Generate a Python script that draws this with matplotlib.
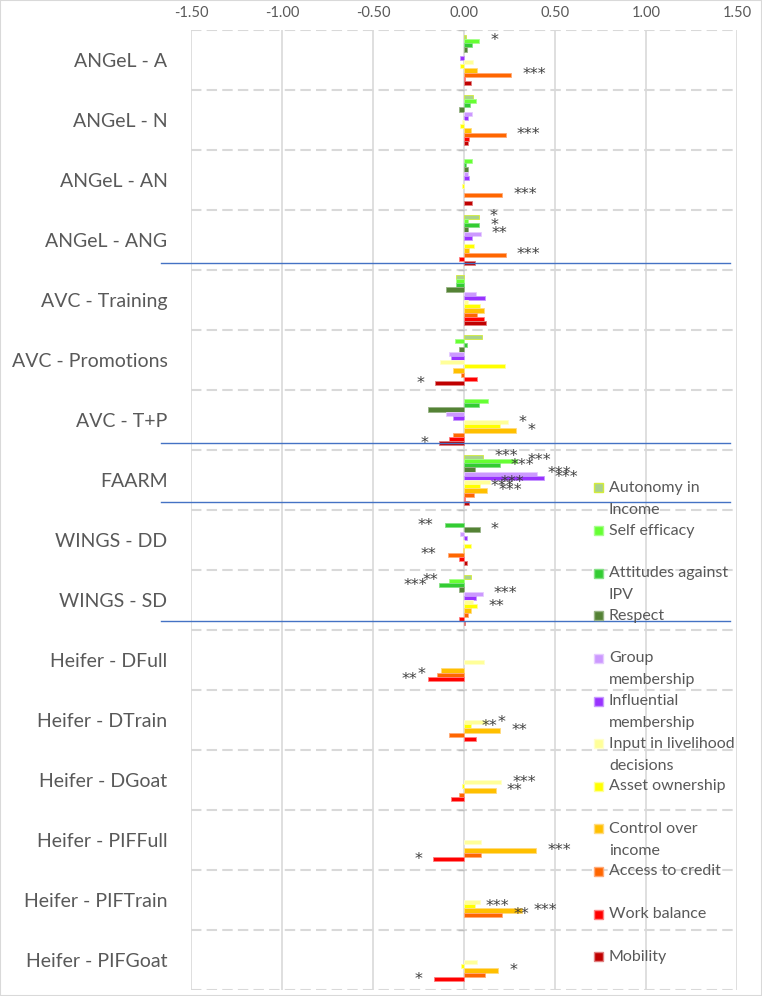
import matplotlib.pyplot as plt
import matplotlib.patches as mpatches
import matplotlib.lines as mlines
import numpy as np

plt.rcParams['font.family'] = ['Lato', 'DejaVu Sans']

categories = ["ANGeL - A", "ANGeL - N", "ANGeL - AN", "ANGeL - ANG",
              "AVC - Training", "AVC - Promotions", "AVC - T+P", "FAARM",
              "WINGS - DD", "WINGS - SD", "Heifer - DFull", "Heifer - DTrain",
              "Heifer - DGoat", "Heifer - PIFFull", "Heifer - PIFTrain", "Heifer - PIFGoat"]

series_names = ["Autonomy in Income", "Self efficacy", "Attitudes against IPV", "Respect",
                "Group membership", "Influential membership", "Input in livelihood decisions",
                "Asset ownership", "Control over income", "Access to credit", "Work balance",
                "Mobility"]
legend_text = ["Autonomy in\nIncome", "Self efficacy", "Attitudes against\nIPV", "Respect",
               "Group\nmembership", "Influential\nmembership", "Input in livelihood\ndecisions",
               "Asset ownership", "Control over\nincome", "Access to credit", "Work balance",
               "Mobility"]

# values (one list per outcome, in category order)
# None = no estimate for that programme
autonomy    = [0.01, 0.05, None, 0.082, -0.045, 0.10, None, 0.106, None, 0.04, None, None, None, None, None, None]
self_eff    = [0.084, 0.064, 0.042, 0.02, -0.045, -0.047, 0.133, 0.29, None, -0.08, None, None, None, None, None, None]
attitudes   = [0.042, 0.033, 0.01, 0.084, -0.045, 0.015, 0.084, 0.197, -0.106, -0.14, None, None, None, None, None, None]
respect     = [0.015, -0.03, 0.02, 0.024, -0.10, -0.03, -0.20, 0.06, 0.087, -0.025, None, None, None, None, None, None]
group       = [None, 0.042, 0.02, 0.093, 0.064, -0.08, -0.10, 0.40, -0.02, 0.105, None, None, None, None, None, None]
influential = [-0.02, 0.024, 0.03, 0.042, 0.115, -0.07, -0.06, 0.44, 0.015, 0.065, None, None, None, None, None, None]
input_liv   = [0.05, -0.01, None, None, 0.02, -0.13, 0.242, 0.142, -0.005, 0.05, 0.11, 0.127, 0.206, 0.093, 0.087, 0.07]
asset       = [-0.02, -0.02, -0.01, 0.055, 0.09, 0.224, 0.20, 0.087, 0.04, 0.073, None, 0.036, -0.01, None, 0.06, -0.015]
control     = [0.07, 0.04, None, 0.03, 0.11, -0.058, 0.288, 0.128, -0.008, 0.036, -0.127, 0.20, 0.175, 0.397, 0.32, 0.188]
access      = [0.26, 0.23, 0.21, 0.23, 0.07, -0.015, -0.058, 0.055, -0.09, 0.024, -0.15, -0.08, -0.03, 0.093, 0.21, 0.118]
work        = [0.005, 0.03, None, -0.03, 0.11, 0.07, -0.085, 0.005, -0.025, -0.025, -0.197, 0.065, -0.07, -0.17, None, -0.167]
mobility    = [0.04, 0.02, 0.045, 0.06, 0.12, -0.158, -0.136, 0.03, 0.015, 0.003, None, None, None, None, None, None]

all_series = [autonomy, self_eff, attitudes, respect, group, influential,
              input_liv, asset, control, access, work, mobility]

colors = ["#A9D18E", "#66FF33", "#33CC33", "#548235", "#CC99FF", "#9933FF",
          "#FFFF99", "#FFFF00", "#FFC000", "#FF6600", "#FF0000", "#C00000"]
edges = ["#D4EC3A", "#A6FF8C", "#85E085", "#98B486", "#E6CCFF", "#C799FF",
         "#FFFFCC", "#FFFF99", "#FFDB80", "#FFAA77", "#FF8080", "#E08080"]

# significance stars: (category, outcome, label)
sig_labels = [
    ("ANGeL - A", "Self efficacy", "*"), ("ANGeL - A", "Access to credit", "***"),
    ("ANGeL - N", "Access to credit", "***"),
    ("ANGeL - AN", "Access to credit", "***"),
    ("ANGeL - ANG", "Autonomy in Income", "*"), ("ANGeL - ANG", "Attitudes against IPV", "*"),
    ("ANGeL - ANG", "Group membership", "**"), ("ANGeL - ANG", "Access to credit", "***"),
    ("AVC - Promotions", "Mobility", "*"),
    ("AVC - T+P", "Input in livelihood decisions", "*"), ("AVC - T+P", "Control over income", "*"),
    ("AVC - T+P", "Mobility", "*"),
    ("FAARM", "Autonomy in Income", "***"), ("FAARM", "Self efficacy", "***"),
    ("FAARM", "Attitudes against IPV", "***"), ("FAARM", "Group membership", "***"),
    ("FAARM", "Influential membership", "***"), ("FAARM", "Input in livelihood decisions", "***"),
    ("FAARM", "Asset ownership", "***"), ("FAARM", "Control over income", "***"),
    ("WINGS - DD", "Attitudes against IPV", "**"), ("WINGS - DD", "Respect", "*"),
    ("WINGS - DD", "Access to credit", "**"),
    ("WINGS - SD", "Self efficacy", "**"), ("WINGS - SD", "Attitudes against IPV", "***"),
    ("WINGS - SD", "Group membership", "***"), ("WINGS - SD", "Asset ownership", "**"),
    ("Heifer - DFull", "Access to credit", "*"), ("Heifer - DFull", "Work balance", "**"),
    ("Heifer - DTrain", "Input in livelihood decisions", "*"), ("Heifer - DTrain", "Asset ownership", "**"),
    ("Heifer - DTrain", "Control over income", "**"),
    ("Heifer - DGoat", "Input in livelihood decisions", "***"), ("Heifer - DGoat", "Control over income", "**"),
    ("Heifer - PIFFull", "Control over income", "***"), ("Heifer - PIFFull", "Work balance", "*"),
    ("Heifer - PIFTrain", "Asset ownership", "***"), ("Heifer - PIFTrain", "Control over income", "***"),
    ("Heifer - PIFTrain", "Access to credit", "**"),
    ("Heifer - PIFGoat", "Control over income", "*"), ("Heifer - PIFGoat", "Work balance", "*"),
]

W, H = 762, 996
def fx(x):
    return x / W
def fy(y):
    return 1 - y / H

fig = plt.figure(figsize=(W / 100, H / 100), dpi=100)
ax = fig.add_axes([fx(191), fy(990), (737 - 191) / W, 960 / H])

grey_txt = "#595959"
grid_c = "#D9D9D9"

ax.set_xlim(-1.5, 1.5)
ax.set_ylim(len(categories) - 0.5, -0.5)
for s in ax.spines.values():
    s.set_visible(False)

xt = np.arange(-1.5, 1.51, 0.5)
ax.set_xticks(xt)
ax.set_xticklabels([f"{v:.2f}" for v in xt])
ax.xaxis.tick_top()
ax.tick_params(axis='x', length=0, pad=7, labelsize=10.5, labelcolor=grey_txt)
for v in xt:
    ax.axvline(v, color=grid_c, lw=1.2, zorder=0)
for b in np.arange(-0.5, len(categories)):
    ax.axhline(b, color=grid_c, lw=1.5, ls=(0, (5, 2.5)), zorder=0)
ax.hlines(np.arange(-0.5, len(categories)), -0.035, 0, colors="#BFBFBF", lw=1, zorder=1)

ax.set_yticks(range(len(categories)))
ax.set_yticklabels(categories)
ax.tick_params(axis='y', length=0, pad=17, labelsize=14, labelcolor=grey_txt)

n = len(all_series)
h = 50.7 / n / 60.0
ypos = np.arange(len(categories))
for j, vals in enumerate(all_series):
    v = np.array([np.nan if x is None else x for x in vals], dtype=float)
    ok = ~np.isnan(v)
    ax.barh(ypos[ok] + (j - (n - 1) / 2) * h, v[ok], height=h, color=colors[j],
            edgecolor=edges[j], linewidth=0.6, zorder=2)

for cat, ser, txt in sig_labels:
    i = categories.index(cat)
    j = series_names.index(ser)
    v = all_series[j][i]
    y = i + (j - (n - 1) / 2) * h
    if v >= 0:
        ax.text(v + 0.06, y, txt, ha='left', va='center', fontsize=11.5,
                color="#404040", family='DejaVu Sans', zorder=3)
    else:
        ax.text(v - 0.06, y, txt, ha='right', va='center', fontsize=11.5,
                color="#404040", family='DejaVu Sans', zorder=3)

# separators between programmes
for yy in [263, 443, 502, 621]:
    fig.add_artist(mlines.Line2D([fx(161), fx(730)], [fy(yy), fy(yy)],
                                 color="#4472C4", lw=1, zorder=5))

# legend, drawn item by item like the original
for k, lab in enumerate(legend_text):
    y0 = 488 + 42.6 * k
    fig.add_artist(mpatches.Rectangle((fx(594), fy(y0 + 4.5)), 9 / W, 9 / H,
                                      facecolor=colors[k], edgecolor=edges[k],
                                      lw=1, transform=fig.transFigure, zorder=6))
    for m, line in enumerate(lab.split("\n")):
        fig.text(fx(609), fy(y0 + 22 * m), line, ha='left', va='center',
                 fontsize=11.5, color=grey_txt, zorder=6)

fig.add_artist(mpatches.Rectangle((0, 0), 1, 1, fill=False, edgecolor=grid_c,
                                  lw=1.5, transform=fig.transFigure))

fig.savefig("out.png", dpi=100)
